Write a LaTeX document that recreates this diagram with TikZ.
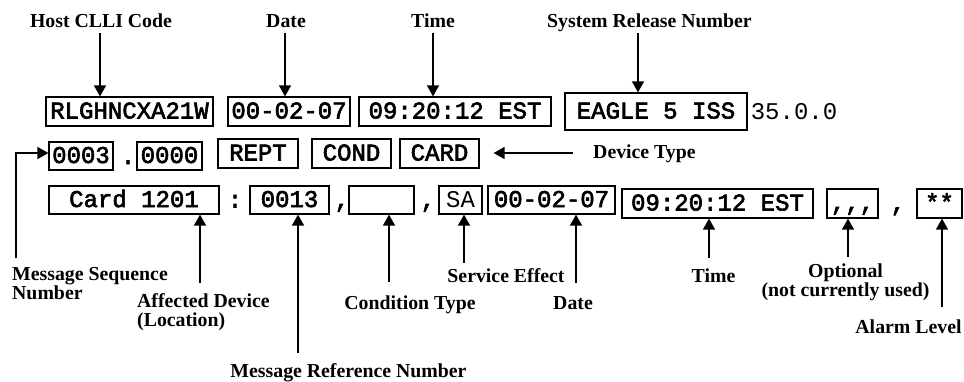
\documentclass[tikz,border=0pt]{standalone}
\usepackage{fontspec}
\setmainfont{Liberation Serif}
\setmonofont{Liberation Mono}
\newfontfamily\monobold{Liberation Mono}[FakeBold=2.6]
\usetikzlibrary{arrows.meta}
\begin{document}
\begin{tikzpicture}[x=1pt,y=-1pt,
  lbl/.style={font=\bfseries\fontsize{19.8}{19}\selectfont, inner sep=0pt},
  bx/.style={draw, line width=1.2pt, inner sep=0pt, font=\monobold\fontsize{24}{24}\selectfont, text height=14pt, text depth=0pt, minimum height=29pt},
  bxr/.style={bx, font=\ttfamily\fontsize{24}{24}\selectfont},
  txt/.style={inner sep=0pt, anchor=base, font=\monobold\fontsize{24}{24}\selectfont},
  arr/.style={line width=1.3pt, -{Triangle[length=11pt,width=12pt]}},
]
\useasboundingbox (0,0) rectangle (964,381);

% ---------- row 1 ----------
\node[bx, minimum width=167pt] (host) at (129.5,111.5) {RLGHNCXA21W};
\node[bx, minimum width=122pt] (date1) at (289,111.5) {00-02-07};
\node[bx, minimum width=192pt] (time1) at (455,111.5) {09:20:12 EST};
\node[bx, minimum width=182pt, minimum height=37pt] (eagle) at (656,111.5) {EAGLE 5 ISS};
\node[txt, font=\ttfamily\fontsize{24}{24}\selectfont] (rel) at (794,119) {35.0.0};

% top labels
\node[lbl, anchor=base] (lhost) at (101,27) {Host CLLI Code};
\node[lbl, anchor=base] (ldate1) at (286,27) {Date};
\node[lbl, anchor=base] (ltime1) at (433,27) {Time};
\node[lbl, anchor=base] (lsys) at (649.5,27) {System Release Number};

\coordinate (tHost) at (100,33);
\coordinate (tDate1) at (285,33);
\coordinate (tTime1) at (433,33);
\coordinate (tSys) at (638,33);
\draw[arr] (tHost) -- (tHost |- host.north);
\draw[arr] (tDate1) -- (tDate1 |- date1.north);
\draw[arr] (tTime1) -- (tTime1 |- time1.north);
\draw[arr] (tSys) -- (tSys |- eagle.north);

% ---------- row 2 ----------
\node[bx, minimum width=64pt, minimum height=28pt] (n0003) at (81,156) {0003};
\node[txt] (dot) at (128,164) {.};
\node[bx, minimum width=65pt, minimum height=28pt] (n0000) at (169.5,156) {0000};
\node[bx, minimum width=80pt] (rept) at (258,153.5) {REPT};
\node[bx, minimum width=79pt] (cond) at (351.5,153.5) {COND};
\node[bx, minimum width=79pt] (card) at (439.5,153.5) {CARD};

\node[lbl, anchor=base west] (ldev) at (593,158) {Device Type};
\coordinate (tDev) at (573,153);
\draw[arr] (tDev) -- ([xshift=14pt]card.east |- tDev);

% ---------- row 3 ----------
\node[bx, minimum width=170pt, minimum height=28pt] (loc) at (134,200) {Card 1201};
\node[txt] (colon) at (235,207.5) {:};
\node[bx, minimum width=79pt, minimum height=28pt] (ref) at (289.5,200) {0013};
\node[txt] (comma1) at (342,207.5) {,};
\node[bx, minimum width=65pt, minimum height=28pt] (ctype) at (381.5,200) {};
\node[txt] (comma2) at (428,207.5) {,};
\node[bxr, minimum width=43pt, minimum height=28pt] (sa) at (460.5,200) {SA};
\node[bx, minimum width=127pt, minimum height=28pt] (date2) at (551.5,200) {00-02-07};
\node[bx, minimum width=191pt] (time2) at (717.5,203.5) {09:20:12 EST};
\node[bx, minimum width=51pt] (opt) at (852.5,203.5) {,,,};
\node[txt] (comma3) at (898,211) {,};
\node[bx, minimum width=45pt] (alarm) at (939.5,203.5) {**};

% message sequence connector
\node[lbl, anchor=north west, align=left] (lmsq) at (12,267) {Message Sequence\\Number};
\coordinate (tMsq) at (16,258);
\draw[arr] (tMsq) |- ([yshift=3pt]n0003.west);

% bottom labels
\node[lbl, anchor=north west, align=left] (lloc) at (137,293) {Affected Device\\(Location)};
\node[lbl, anchor=base] (lref) at (348.5,377) {Message Reference Number};
\node[lbl, anchor=base] (lctype) at (410,309) {Condition Type};
\node[lbl, anchor=base] (lsa) at (506,282) {Service Effect};
\node[lbl, anchor=base] (ldate2) at (573,309) {Date};
\node[lbl, anchor=base] (ltime2) at (713.5,282) {Time};
\node[lbl, anchor=north, align=center] (lopt) at (845.5,264) {Optional\\(not currently used)};
\node[lbl, anchor=base] (lalarm) at (908.5,333) {Alarm Level};

\coordinate (bLoc) at (200,283);
\coordinate (bRef) at (298,353);
\coordinate (bCtype) at (389,282);
\coordinate (bSa) at (464,263);
\coordinate (bDate2) at (576,283);
\coordinate (bTime2) at (709,258);
\coordinate (bOpt) at (848,257);
\coordinate (bAlarm) at (942,307);
\draw[arr] (bLoc) -- (bLoc |- loc.south);
\draw[arr] (bRef) -- (bRef |- ref.south);
\draw[arr] (bCtype) -- (bCtype |- ctype.south);
\draw[arr] (bSa) -- (bSa |- sa.south);
\draw[arr] (bDate2) -- (bDate2 |- date2.south);
\draw[arr] (bTime2) -- (bTime2 |- time2.south);
\draw[arr] (bOpt) -- (bOpt |- opt.south);
\draw[arr] (bAlarm) -- (bAlarm |- alarm.south);
\end{tikzpicture}
\end{document}
